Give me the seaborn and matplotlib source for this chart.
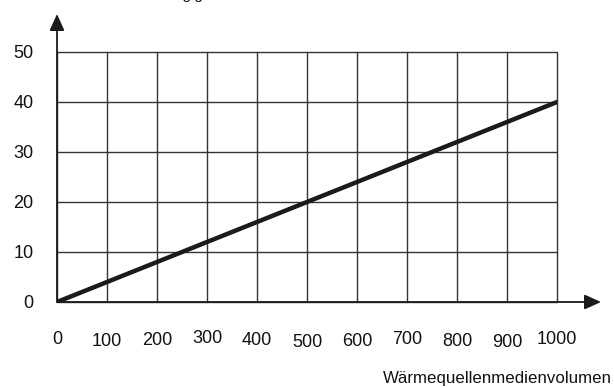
import matplotlib
matplotlib.use("Agg")
import matplotlib.pyplot as plt
import matplotlib.transforms as mtransforms
import seaborn as sns
import pandas as pd

# Data
volume = [0, 1000]          # Wärmequellenmedienvolumen
amount = [0, 40]            # Menge
x_ticks = [0, 100, 200, 300, 400, 500, 600, 700, 800, 900, 1000]
y_ticks = [0, 10, 20, 30, 40, 50]
x_label = "Wärmequellenmedienvolumen"
top_label = "Frostschutzmittel in Abhängigkeit"

sns.set_style("white")
plt.rcParams['font.family'] = ['Liberation Sans', 'DejaVu Sans']

W, H = 614, 388
fig = plt.figure(figsize=(W / 100, H / 100), dpi=100)
x0, x1 = 57, 557
y0, y1 = 302, 52
ax = fig.add_axes([x0 / W, (H - y0) / H, (x1 - x0) / W, (y0 - y1) / H])

df = pd.DataFrame({"v": volume, "m": amount})
sns.lineplot(data=df, x="v", y="m", ax=ax, color="#1a1a1a", lw=3.2, zorder=5)

ax.set_xlim(0, 1000)
ax.set_ylim(0, 50)
ax.set_xticks(x_ticks)
ax.set_yticks(y_ticks)
ax.set_xticklabels([str(t) for t in x_ticks])
ax.set_yticklabels([str(t) for t in y_ticks])
for s in ax.spines.values():
    s.set_visible(False)
ax.grid(True, color="#333333", lw=1.0)
for gl in ax.get_xgridlines() + ax.get_ygridlines():
    gl.set_clip_on(False)
ax.tick_params(axis="x", length=0, pad=22, labelsize=13, labelcolor="#111111")
ax.tick_params(axis="y", length=0, pad=17, labelsize=13, labelcolor="#111111")
ax.set_xlabel("")
ax.set_ylabel("")

# slight vertical jitter of the printed tick labels (style, in pixels)
shifts = [2, -0.5, 0.5, 3, 1, -1, 0, 2, 0, -1, 2]
for lab, dy in zip(ax.get_xticklabels(), shifts):
    lab.set_transform(lab.get_transform() + mtransforms.ScaledTranslation(0, dy / 100, fig.dpi_scale_trans))

# axis arrows
ax.annotate("", xy=(0, 57.6), xytext=(0, 0), xycoords="data", annotation_clip=False,
            arrowprops=dict(arrowstyle="-|>,head_length=1.0,head_width=0.45",
                            color="#1a1a1a", lw=1.3, shrinkA=0, shrinkB=0))
ax.annotate("", xy=(1088, 0), xytext=(0, 0), xycoords="data", annotation_clip=False,
            arrowprops=dict(arrowstyle="-|>,head_length=1.0,head_width=0.45",
                            color="#1a1a1a", lw=1.3, shrinkA=0, shrinkB=0))

fig.text(612 / W, 1 - 378 / H, x_label, ha="right", va="center", fontsize=12.2, color="#111111")
fig.text(227 / W, 1 + 0.8 / H, top_label, ha="right", va="baseline", fontsize=11, color="#111111")

fig.savefig("out.png", dpi=100)
